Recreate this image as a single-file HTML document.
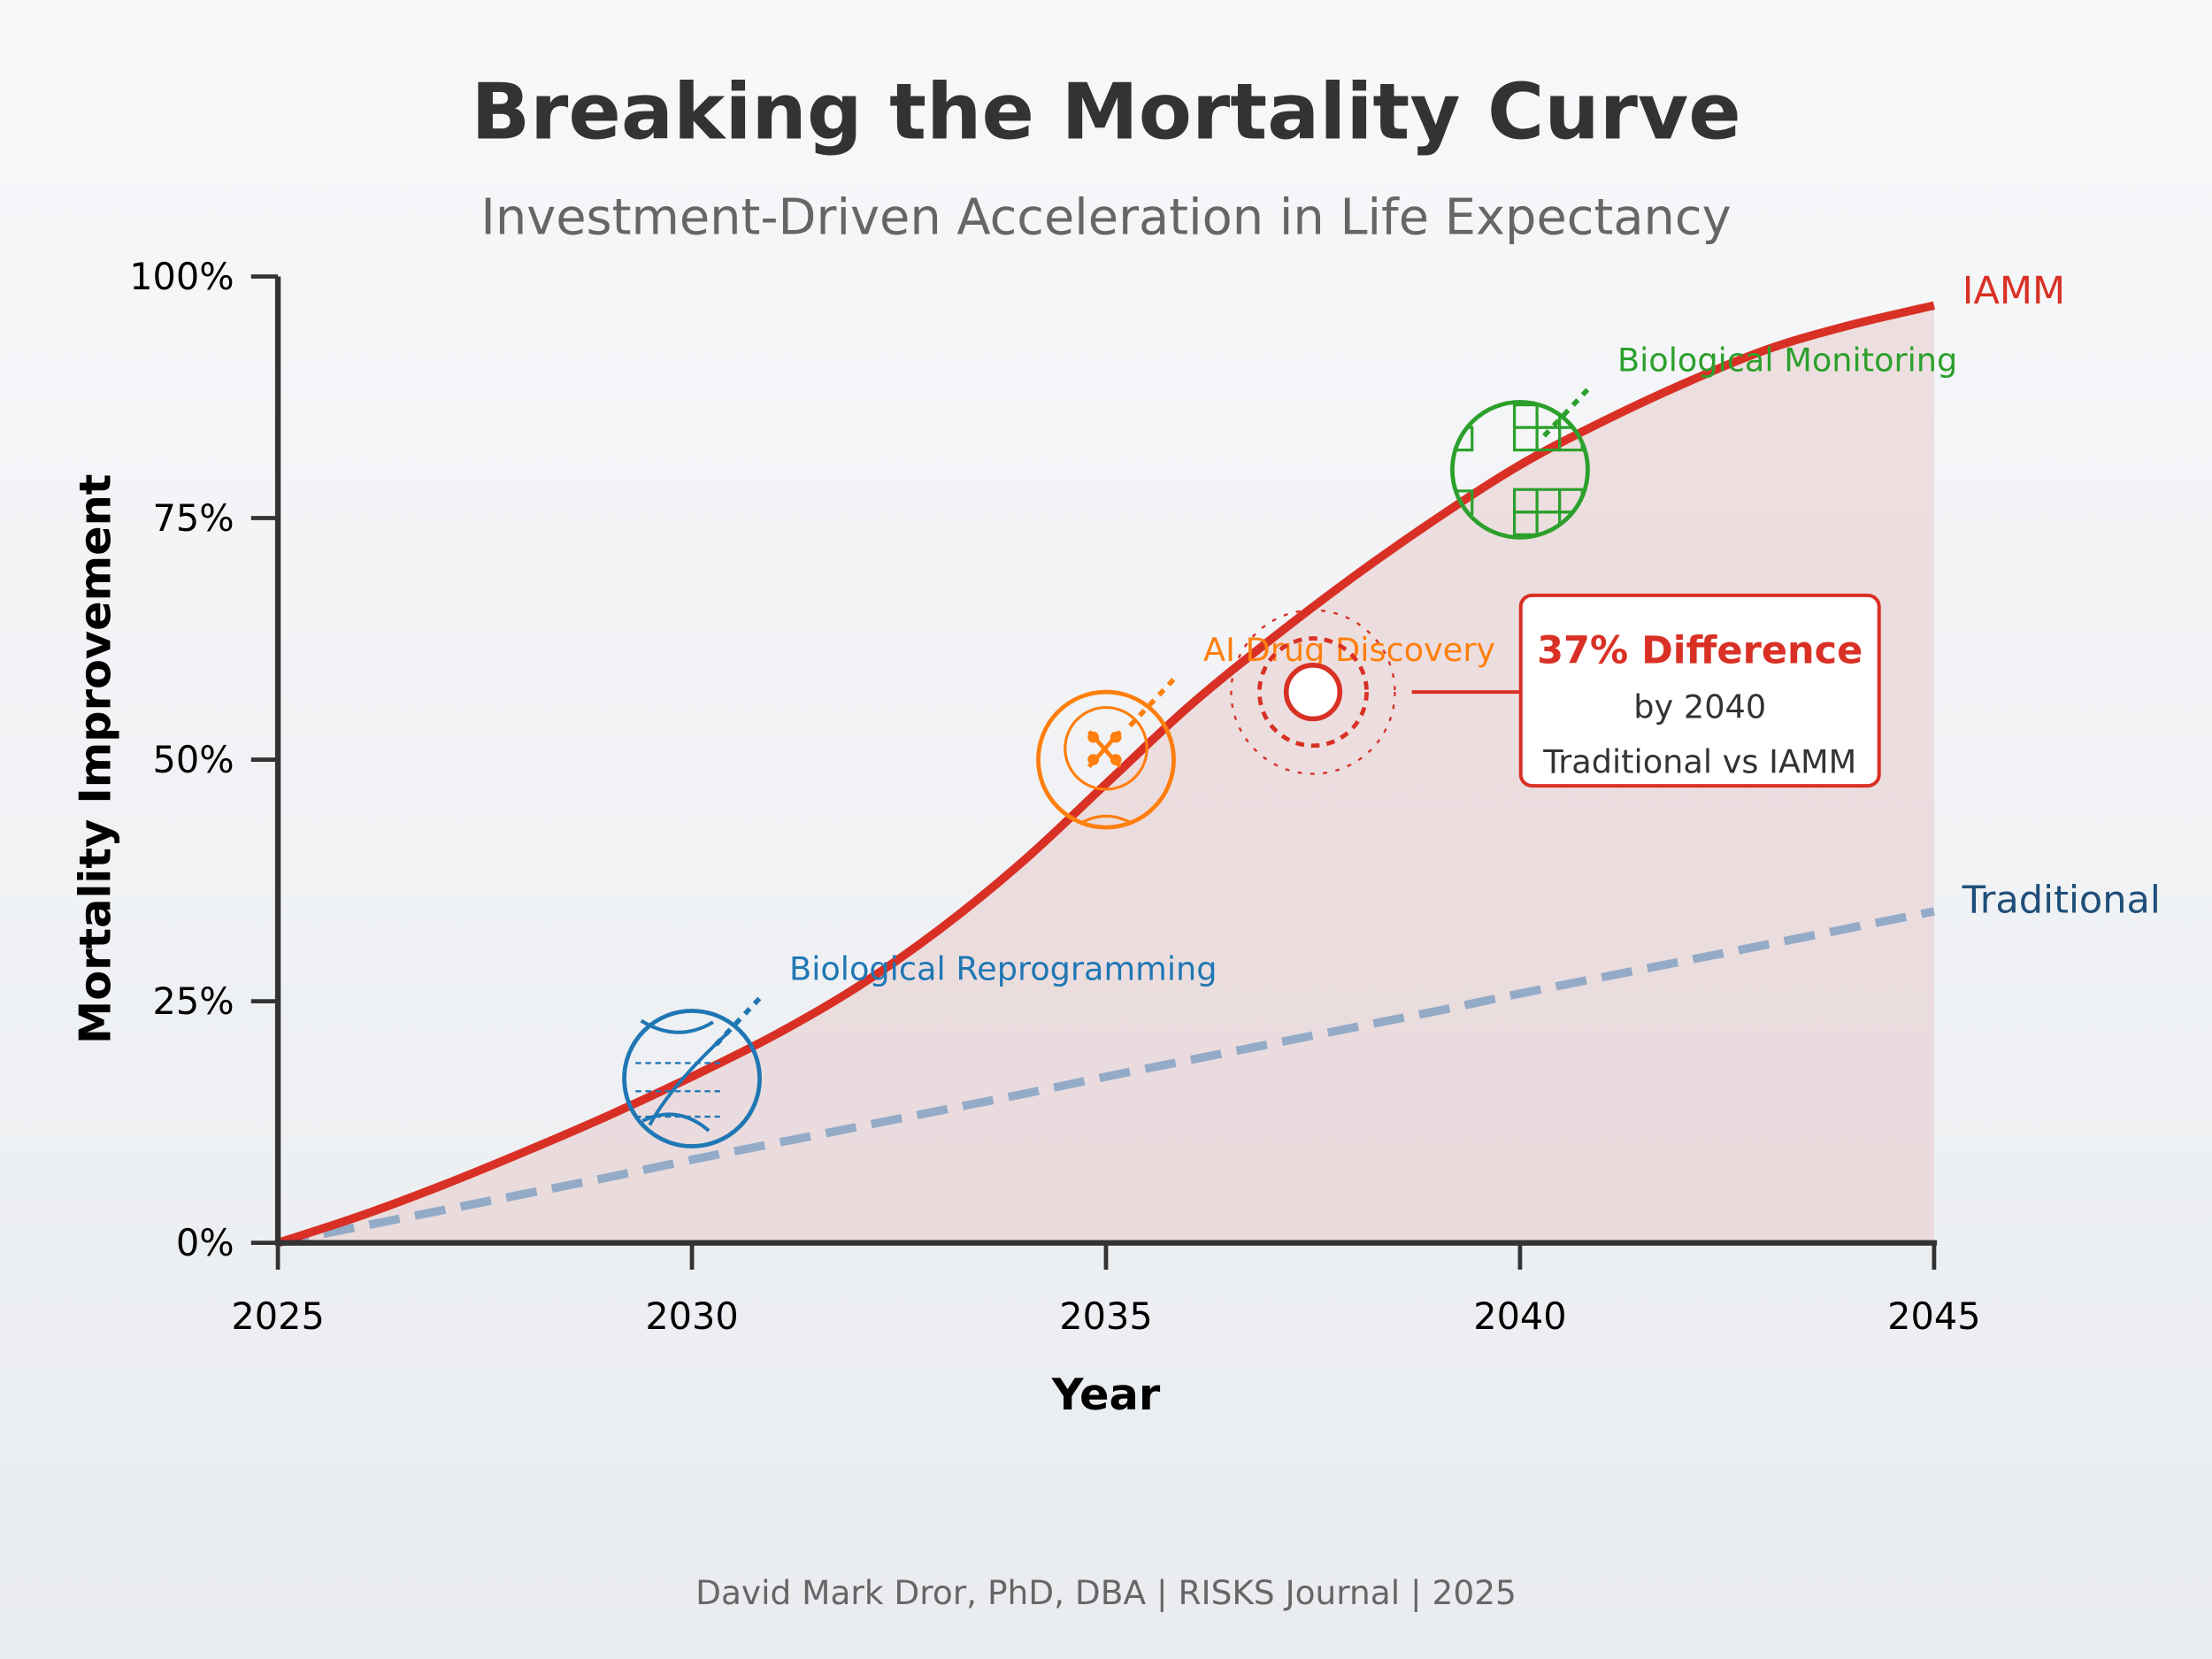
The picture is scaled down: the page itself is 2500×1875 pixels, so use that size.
<!DOCTYPE html>
<html><head><meta charset="utf-8"><style>
html,body{margin:0;padding:0;}
body{width:2500px;height:1875px;overflow:hidden;}
svg{display:block;font-family:"DejaVu Sans","Liberation Sans",sans-serif;}
</style></head><body>
<svg id="chart" width="2500" height="1875" viewBox="0 0 1568 1176" xmlns="http://www.w3.org/2000/svg">
<defs><linearGradient id="bg" x1="0" y1="0" x2="0" y2="1"><stop offset="0" stop-color="#f7f8fa"/><stop offset="1" stop-color="#e9ecef"/></linearGradient></defs>
<rect x="0" y="0" width="1568" height="1176" fill="url(#bg)"/>
<text x="784" y="98" text-anchor="middle" font-size="55" font-weight="bold" fill="#333">Breaking the Mortality Curve</text>
<text x="784" y="166" text-anchor="middle" font-size="35" fill="#666">Investment-Driven Acceleration in Life Expectancy</text>
<g id="plot"></g>
<text transform="translate(78,538) rotate(-90)" text-anchor="middle" font-size="31" font-weight="bold" fill="#000">Mortality Improvement</text>
<text x="784" y="999" text-anchor="middle" font-size="31" font-weight="bold" fill="#000">Year</text>
<text x="784" y="1137" text-anchor="middle" font-size="23.5" fill="#666">David Mark Dror, PhD, DBA | RISKS Journal | 2025</text>
</svg>
<script>
const years=[2025,2026,2027,2028,2029,2030,2031,2032,2033,2034,2035,2036,2037,2038,2039,2040,2041,2042,2043,2044,2045];
const iamm=[0,2.8,6,9.5,13.2,17.2,21.5,26.5,32.5,39.5,47.5,55.5,62.5,69,75,80.5,85,89,92.5,95,97];
const traditional=[0,1.7,3.4,5.1,6.8,8.6,10.3,12,13.7,15.4,17.2,18.9,20.6,22.3,24,25.8,27.5,29.2,30.9,32.6,34.3];
const yTicks=[0,25,50,75,100];
const yTickLabels=["0%","25%","50%","75%","100%"];
const xTicks=[2025,2030,2035,2040,2045];
const milestoneYears=[2030,2035,2040];
const milestoneVals=[17,50,80];
const milestoneNames=["Biological Reprogramming","AI Drug Discovery","Biological Monitoring"];
const highlightYear=2037.5, highlightVal=57;

const NS="http://www.w3.org/2000/svg";
const X=v=>197+(v-2025)*(1371-197)/20;
const Y=v=>881-v*(881-196)/100;
const g=document.getElementById('plot');
function el(t,a,p){const e=document.createElementNS(NS,t);for(const k in a)e.setAttribute(k,a[k]);(p||g).appendChild(e);return e;}

let d="M"+X(years[0])+","+Y(0);
years.forEach((y,i)=>d+=" L"+X(y)+","+Y(iamm[i]));
d+=" L"+X(years[years.length-1])+","+Y(0)+" Z";
const area=el('path',{d:d,fill:'#e8cccc','fill-opacity':0.55});



function smooth(vals){const pts=years.map((y,i)=>[X(y),Y(vals[i])]);let s="M"+pts[0][0]+","+pts[0][1];
for(let i=0;i<pts.length-1;i++){const p0=pts[i-1]||pts[i],p1=pts[i],p2=pts[i+1],p3=pts[i+2]||p2;
s+=` C${p1[0]+(p2[0]-p0[0])/6},${p1[1]+(p2[1]-p0[1])/6} ${p2[0]-(p3[0]-p1[0])/6},${p2[1]-(p3[1]-p1[1])/6} ${p2[0]},${p2[1]}`;}return s;}

const trad=el('path',{d:smooth(traditional),fill:'none',stroke:'#94abc8','stroke-width':6,'stroke-dasharray':'22,11'});


const iam=el('path',{d:smooth(iamm),fill:'none',stroke:'#d93025','stroke-width':6});



const ya=el('line',{x1:197,y1:196,x2:197,y2:881,stroke:'#333','stroke-width':4});


const xa=el('line',{x1:195,y1:881,x2:1373,y2:881,stroke:'#333','stroke-width':4});


yTicks.forEach((t,i)=>{
 el('line',{x1:178,y1:Y(t),x2:197,y2:Y(t),stroke:'#333','stroke-width':3});
 const tx=el('text',{x:166,y:Y(t)+9,'text-anchor':'end','font-size':26,fill:'#000'});tx.textContent=yTickLabels[i];
 
 
});
xTicks.forEach(t=>{
 el('line',{x1:X(t),y1:881,x2:X(t),y2:900,stroke:'#333','stroke-width':3});
 const tx=el('text',{x:X(t),y:942,'text-anchor':'middle','font-size':26,fill:'#000'});tx.textContent=t;
 
 
});

const colors=['#1f77b4','#ff7f0e','#2ca02c'];
milestoneYears.forEach((yr,i)=>{
 const cx=X(yr),cy=Y(milestoneVals[i]),c=colors[i];
 const grp=el('g',{});
 
 
 el('circle',{cx:cx,cy:cy,r:48,fill:'none',stroke:c,'stroke-width':3},grp);
 if(i===0){
  el('path',{d:`M${cx-36},${cy-41} Q${cx-10},${cy-25} ${cx+15},${cy-40} M${cx-35},${cy+30} Q${cx-10},${cy+18} ${cx+12},${cy+37} M${cx-30},${cy+33} Q${cx-15},${cy+5} ${cx+25},${cy-32}`,fill:'none',stroke:c,'stroke-width':2.5},grp);
  [-10,10,28].forEach((o,k)=>el('line',{x1:cx-40,y1:cy+o-1,x2:cx+20,y2:cy+o-1,stroke:c,'stroke-width':1.5,'stroke-dasharray':'4,3'},grp));
 } else if(i===1){
  el('circle',{cx:cx,cy:cy-8,r:29,fill:'none',stroke:c,'stroke-width':2},grp);
  el('path',{d:`M${cx-12},${cy-20} L${cx+10},${cy+5} M${cx+10},${cy-20} L${cx-12},${cy+5}`,stroke:c,'stroke-width':3},grp);
  [[-9,-16],[7,-16],[-9,0],[7,0]].forEach(p=>el('circle',{cx:cx+p[0],cy:cy+p[1],r:4,fill:c},grp));
  el('path',{d:`M${cx-18},${cy+45} Q${cx},${cy+35} ${cx+18},${cy+45}`,fill:'none',stroke:c,'stroke-width':2},grp);
 } else {
  const cl=el('clipPath',{id:'gc'},grp);el('circle',{cx:cx,cy:cy,r:47},cl);
  const gg=el('g',{'clip-path':'url(#gc)',fill:'none',stroke:c,'stroke-width':2},grp);
  [[-4,-46],[-4,14]].forEach(o=>{for(let a=0;a<3;a++)for(let b=0;b<2;b++)el('rect',{x:cx+o[0]+a*16,y:cy+o[1]+b*16,width:16,height:16},gg);});
  el('rect',{x:cx-52,y:cy-30,width:18,height:16},gg);el('rect',{x:cx-52,y:cy+15,width:18,height:16},gg);
 }
 el('line',{x1:cx+17,y1:cy-24,x2:cx+49,y2:cy-58,stroke:c,'stroke-width':3.5,'stroke-dasharray':'5,5'},grp);
 const lb=el('text',{x:cx+69,y:cy-70,'font-size':23,fill:c});lb.textContent=milestoneNames[i];
 
 
});

const hx=X(highlightYear),hy=Y(highlightVal);
const hg=el('g',{});


el('circle',{cx:hx,cy:hy,r:58,fill:'none',stroke:'#d93025','stroke-width':1.5,'stroke-dasharray':'3,6'},hg);
el('circle',{cx:hx,cy:hy,r:38,fill:'none',stroke:'#d93025','stroke-width':3,'stroke-dasharray':'6,5'},hg);
el('circle',{cx:hx,cy:hy,r:19,fill:'#fff',stroke:'#d93025','stroke-width':3.5},hg);
el('line',{x1:hx+70,y1:hy,x2:1078,y2:hy,stroke:'#d93025','stroke-width':2.5},hg);
const box=el('g',{});


el('rect',{x:1078,y:422,width:254,height:135,rx:8,fill:'#fff',stroke:'#d93025','stroke-width':2.5},box);
const t1=el('text',{x:1205,y:470,'text-anchor':'middle','font-size':27,'font-weight':'bold',fill:'#d93025'},box);t1.textContent="37% Difference";
const t2=el('text',{x:1205,y:509,'text-anchor':'middle','font-size':23,fill:'#333'},box);t2.textContent="by 2040";
const t3=el('text',{x:1205,y:548,'text-anchor':'middle','font-size':23,fill:'#333'},box);t3.textContent="Traditional vs IAMM";

const l1=el('text',{x:1391,y:215,'font-size':27,fill:'#d93025'});l1.textContent="IAMM";


const l2=el('text',{x:1391,y:647,'font-size':27,fill:'#1f4e79'});l2.textContent="Traditional";


</script>
</body></html>
